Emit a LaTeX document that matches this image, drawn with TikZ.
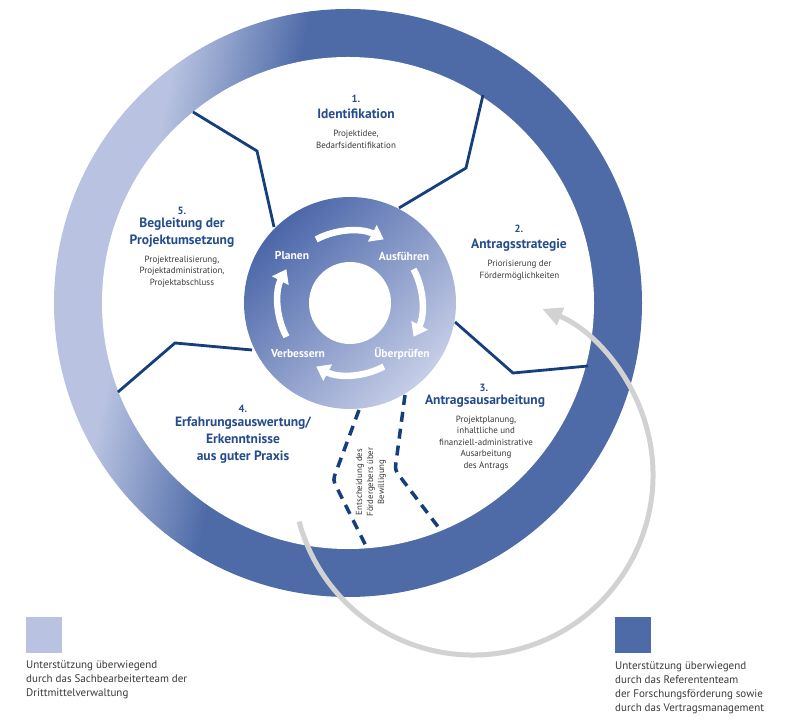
\documentclass[tikz,border=0pt]{standalone}
\usepackage{fontspec}
\setmainfont{PT Sans}
\usetikzlibrary{arrows.meta}
\definecolor{ringlight}{HTML}{B9C3E1}
\definecolor{ringdark}{HTML}{4E6BA8}
\definecolor{navy}{HTML}{153F7C}
\definecolor{headblue}{HTML}{254C8C}
\definecolor{bodygray}{HTML}{3A3A3A}
\definecolor{hubdark}{HTML}{4B66A9}
\definecolor{hublight}{HTML}{C6CEE7}
\definecolor{arcgray}{HTML}{D2D2D2}
\begin{document}
\begin{tikzpicture}[x=1pt,y=1pt,
  numtext/.style={font=\fontsize{10.5}{12}\selectfont\bfseries, text=headblue, inner sep=0},
  headtext/.style={font=\fontsize{13.5}{17}\selectfont\bfseries, text=headblue, align=center, inner sep=0},
  desctext/.style={font=\fontsize{9}{11.5}\selectfont, text=bodygray, align=center, inner sep=0},
  hubtext/.style={font=\fontsize{11.5}{13}\selectfont\bfseries, text=white, inner sep=0},
  spoke/.style={draw=navy, line width=2.8pt},
  dashspoke/.style={draw=navy, line width=3.5pt, dash pattern=on 10pt off 7pt, rounded corners=4pt},
  hubarrow/.style={draw=white, line width=6.5pt, -{Triangle[length=13pt,width=18pt]}},
  legendtext/.style={font=\fontsize{11}{14}\selectfont, text=bodygray, align=left, inner sep=0, anchor=west},
  legendbox/.style={minimum size=36pt, inner sep=0},
]
\useasboundingbox (0,0) rectangle (795,728);
\fill[white] (0,0) rectangle (795,728);

% outer ring
\coordinate (rc) at (348,425);
\begin{scope}
  \clip (rc) circle[radius=294];
  \begin{scope}[transform canvas={rotate around={-11.8:(348,425)}}]
    \fill[ringlight] (-400,-400) rectangle (128.5,1200);
    \shade[left color=ringlight, right color=ringdark] (128,-400) rectangle (252,1200);
    \fill[ringdark] (251.5,-400) rectangle (1200,1200);
  \end{scope}
\end{scope}
\fill[white] (rc) circle[radius=246];

% spokes
\coordinate (a1) at (193,616); \coordinate (a2) at (257,577); \coordinate (a3) at (274,501);
\coordinate (b1) at (483,633); \coordinate (b2) at (466,560); \coordinate (b3) at (399,520);
\coordinate (c1) at (455,406); \coordinate (c2) at (513,355); \coordinate (c3) at (588,362);
\coordinate (d1) at (252,378); \coordinate (d2) at (175,385); \coordinate (d3) at (118,336);
\draw[spoke] (a1) -- (a2) -- (a3);
\draw[spoke] (b1) -- (b2) -- (b3);
\draw[spoke] (c1) -- (c2) -- (c3);
\draw[spoke] (d1) -- (d2) -- (d3);

% dashed spokes
\coordinate (e1) at (359,318); \coordinate (e2) at (333,248); \coordinate (e3) at (367,180);
\coordinate (f1) at (405,333); \coordinate (f2) at (395,258); \coordinate (f3) at (442,196);
\draw[dashspoke] (e1) -- (e2) -- (e3);
\draw[dashspoke] (f1) -- (f2) -- (f3);

% hub
\coordinate (hc) at (350,425);
\shade[top color=hubdark, bottom color=hublight, shading angle=45] (hc) circle[radius=106];
\fill[white] (hc) circle[radius=41];
\foreach \c in {90,0,-90,180}
  \draw[hubarrow] (hc) ++({\c+28}:72) arc[start angle={\c+28}, end angle={\c-28}, radius=72];

\node[hubtext] (planen) at (292,472) {Planen};
\node[hubtext] (ausf) at (404,472) {Ausführen};
\node[hubtext] (verb) at (298,374) {Verbessern};
\node[hubtext] (uebp) at (402,374) {Überprüfen};

% phase labels
\node[numtext] (n1) at (356,629) {1.};
\node[headtext] (h1) at (356,614) {Identifikation};
\node[desctext] (t1) at (356,588.5) {Projektidee,\\Bedarfsidentifikation};

\node[numtext] (n2) at (519,499) {2.};
\node[headtext] (h2) at (519,483) {Antragsstrategie};
\node[desctext] (t2) at (519.5,457.5) {Priorisierung der\\Fördermöglichkeiten};

\node[numtext] (n3) at (484,340) {3.};
\node[headtext] (h3) at (485,327) {Antragsausarbeitung};
\node[desctext] (t3) at (486,285) {Projektplanung,\\inhaltliche und\\finanziell-administrative\\Ausarbeitung\\des Antrags};

\node[numtext] (n4) at (243,319) {4.};
\node[headtext] (h4) at (243,288) {Erfahrungsauswertung/\\Erkenntnisse\\aus guter Praxis};

\node[numtext] (n5) at (182,517) {5.};
\node[headtext] (h5) at (182,495.5) {Begleitung der\\Projektumsetzung};
\node[desctext] (t5) at (182,456.5) {Projektrealisierung,\\Projektadministration,\\Projektabschluss};

\node[desctext, rotate=90, font=\fontsize{8.8}{11}\selectfont] (ent) at (371,246) {Entscheidung des\\Fördergebers über\\Bewilligung};

% grey return arc
\coordinate (gc) at (473,253);
\draw[arcgray, line width=5pt, -{Triangle[length=20pt,width=18pt]}] (gc) ++(195:180) arc[start angle=195, end angle=427.4, radius=180];

% legend
\node[legendbox, fill=ringlight] (lb1) at (44,93) {};
\node[legendtext] (lt1) at (26,48) {Unterstützung überwiegend\\durch das Sachbearbeiterteam der\\Drittmittelverwaltung};
\node[legendbox, fill=ringdark] (lb2) at (633,93) {};
\node[legendtext] (lt2) at (615,40) {Unterstützung überwiegend\\durch das Referententeam\\der Forschungsförderung sowie\\durch das Vertragsmanagement};
\end{tikzpicture}
\end{document}
